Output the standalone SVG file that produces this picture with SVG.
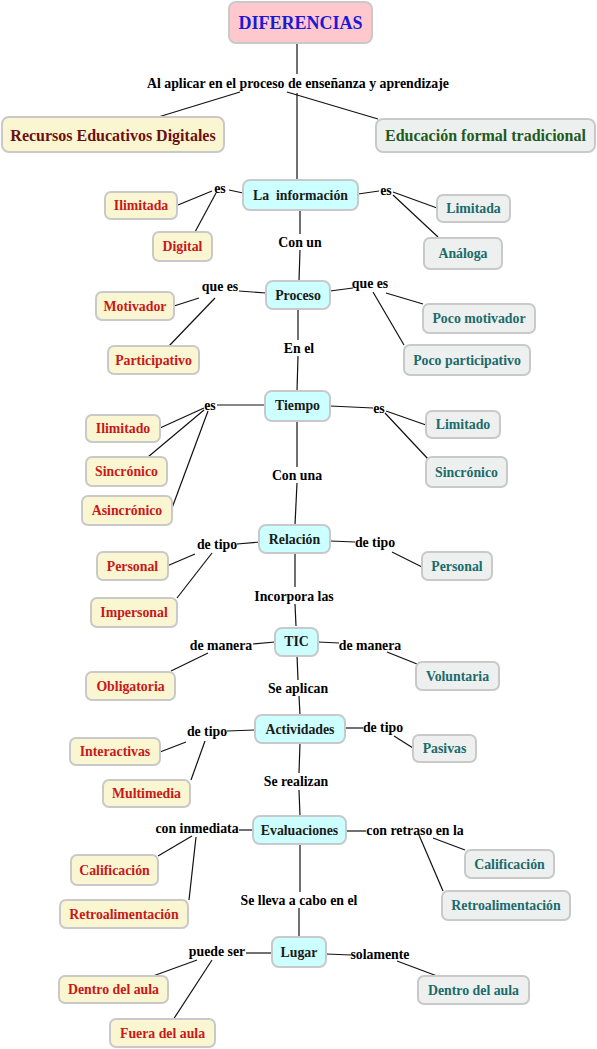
<svg xmlns="http://www.w3.org/2000/svg" width="597" height="1049" viewBox="0 0 597 1049">
<style>
text{font-family:"Liberation Serif","Times New Roman",serif;font-weight:bold;text-anchor:middle;dominant-baseline:central}
rect{stroke:#c9c9c9;stroke-width:2}
.c rect{fill:#ccffff}
.l rect{fill:#fbf6d2}
.r rect{fill:#eef0ef}
.t rect{fill:#ffc8cc}
.c text{fill:#1a1a1a;font-size:13.8px}
.l text{fill:#c81818;font-size:13.8px}
.r text{fill:#1a6b6b;font-size:13.8px}
.lab{fill:#000;font-size:13.8px}
#conn line{stroke:#111;stroke-width:1.2}
</style>
<rect width="597" height="1049" fill="#fff" style="stroke:none"/>
<g id="conn">
<line x1="297" y1="43" x2="297" y2="74"/>
<line x1="297" y1="93" x2="297" y2="180"/>
<line x1="240" y1="92" x2="155" y2="118"/>
<line x1="287" y1="92" x2="378" y2="119"/>
<line x1="243" y1="193" x2="229" y2="190"/>
<line x1="212" y1="191" x2="178" y2="205"/>
<line x1="216" y1="193" x2="195" y2="232"/>
<line x1="358" y1="194" x2="379" y2="191"/>
<line x1="393" y1="192" x2="437" y2="208"/>
<line x1="393" y1="195" x2="438" y2="237"/>
<line x1="300" y1="210" x2="300" y2="234"/>
<line x1="300" y1="250" x2="299" y2="281"/>
<line x1="266" y1="293" x2="239" y2="291"/>
<line x1="199" y1="298" x2="174" y2="306"/>
<line x1="215" y1="298" x2="169" y2="346"/>
<line x1="330" y1="291" x2="353" y2="288"/>
<line x1="386" y1="293" x2="423" y2="304"/>
<line x1="373" y1="292" x2="404" y2="345"/>
<line x1="298" y1="309" x2="298" y2="340"/>
<line x1="298" y1="356" x2="297" y2="391"/>
<line x1="265" y1="405" x2="217" y2="405"/>
<line x1="204" y1="408" x2="160" y2="428"/>
<line x1="204" y1="410" x2="148" y2="457"/>
<line x1="208" y1="411" x2="172" y2="508"/>
<line x1="330" y1="406" x2="373" y2="408"/>
<line x1="386" y1="411" x2="426" y2="425"/>
<line x1="385" y1="413" x2="428" y2="459"/>
<line x1="297" y1="421" x2="297" y2="467"/>
<line x1="297" y1="483" x2="295" y2="525"/>
<line x1="260" y1="542" x2="237" y2="544"/>
<line x1="195" y1="554" x2="167" y2="566"/>
<line x1="212" y1="553" x2="177" y2="598"/>
<line x1="330" y1="541" x2="355" y2="542"/>
<line x1="392" y1="552" x2="422" y2="567"/>
<line x1="295" y1="553" x2="295" y2="587"/>
<line x1="295" y1="604" x2="296" y2="626"/>
<line x1="275" y1="642" x2="253" y2="644"/>
<line x1="208" y1="653" x2="171" y2="671"/>
<line x1="318" y1="642" x2="339" y2="643"/>
<line x1="387" y1="652" x2="417" y2="664"/>
<line x1="297" y1="655" x2="298" y2="680"/>
<line x1="299" y1="696" x2="300" y2="715"/>
<line x1="255" y1="730" x2="227" y2="731"/>
<line x1="186" y1="742" x2="160" y2="752"/>
<line x1="205" y1="741" x2="191" y2="780"/>
<line x1="345" y1="728" x2="363" y2="728"/>
<line x1="394" y1="736" x2="413" y2="748"/>
<line x1="300" y1="743" x2="299" y2="773"/>
<line x1="299" y1="790" x2="300" y2="816"/>
<line x1="253" y1="830" x2="239" y2="830"/>
<line x1="192" y1="836" x2="158" y2="856"/>
<line x1="196" y1="837" x2="189" y2="900"/>
<line x1="346" y1="831" x2="366" y2="831"/>
<line x1="433" y1="838" x2="465" y2="850"/>
<line x1="419" y1="835" x2="443" y2="891"/>
<line x1="300" y1="844" x2="300" y2="892"/>
<line x1="299" y1="908" x2="299" y2="937"/>
<line x1="272" y1="953" x2="246" y2="953"/>
<line x1="197" y1="960" x2="153" y2="976"/>
<line x1="212" y1="960" x2="173" y2="1020"/>
<line x1="326" y1="954" x2="351" y2="955"/>
<line x1="397" y1="961" x2="437" y2="976"/>
</g>
<g id="labels">
<text class="lab" x="298" y="83">Al aplicar en el proceso de enseñanza y aprendizaje</text>
<text class="lab" x="220" y="188">es</text>
<text class="lab" x="386" y="190">es</text>
<text class="lab" x="300" y="242">Con un</text>
<text class="lab" x="220" y="286">que es</text>
<text class="lab" x="370" y="283">que es</text>
<text class="lab" x="299" y="348">En el</text>
<text class="lab" x="210" y="405">es</text>
<text class="lab" x="379" y="408">es</text>
<text class="lab" x="297" y="475">Con una</text>
<text class="lab" x="217" y="544">de tipo</text>
<text class="lab" x="375" y="542">de tipo</text>
<text class="lab" x="294" y="596">Incorpora las</text>
<text class="lab" x="221" y="645">de manera</text>
<text class="lab" x="370" y="645">de manera</text>
<text class="lab" x="298" y="688">Se aplican</text>
<text class="lab" x="207" y="731">de tipo</text>
<text class="lab" x="383" y="727">de tipo</text>
<text class="lab" x="296" y="781">Se realizan</text>
<text class="lab" x="197" y="828">con inmediata</text>
<text class="lab" x="415" y="830">con retraso en la</text>
<text class="lab" x="299" y="900">Se lleva a cabo en el</text>
<text class="lab" x="217" y="951">puede ser</text>
<text class="lab" x="380" y="954">solamente</text>
</g>
<g id="n-title" class="t"><rect x="229" y="2" width="143" height="41" rx="7"/><text x="300.5" y="23" style="fill:#1a1ad6;font-size:18px">DIFERENCIAS</text></g>
<g id="n-red" class="l"><rect x="2" y="117" width="222" height="35" rx="7"/><text x="113" y="135" style="fill:#6b1010;font-size:16px">Recursos Educativos Digitales</text></g>
<g id="n-eft" class="r"><rect x="376" y="119" width="219" height="33" rx="7"/><text x="485.5" y="135.5" style="fill:#1f5a1f;font-size:16px">Educación formal tradicional</text></g>
<g id="n-info" class="c"><rect x="243" y="180" width="115" height="30" rx="7"/><text x="300.5" y="195" xml:space="preserve">La  información</text></g>
<g id="n-ilimitada" class="l"><rect x="105" y="192" width="72" height="27" rx="6"/><text x="141" y="205.5">Ilimitada</text></g>
<g id="n-digital" class="l"><rect x="153" y="232" width="59" height="29" rx="6"/><text x="182.5" y="246.5">Digital</text></g>
<g id="n-limitada" class="r"><rect x="437" y="195" width="73" height="27" rx="6"/><text x="473.5" y="208.5">Limitada</text></g>
<g id="n-analoga" class="r"><rect x="424" y="238" width="78" height="31" rx="6"/><text x="463" y="253.5">Análoga</text></g>
<g id="n-proceso" class="c"><rect x="266" y="281" width="64" height="28" rx="7"/><text x="298" y="295">Proceso</text></g>
<g id="n-motivador" class="l"><rect x="96" y="292" width="78" height="28" rx="6"/><text x="135" y="306">Motivador</text></g>
<g id="n-participativo" class="l"><rect x="108" y="346" width="91" height="28" rx="6"/><text x="153.5" y="360">Participativo</text></g>
<g id="n-pocomot" class="r"><rect x="423" y="304" width="112" height="29" rx="6"/><text x="479" y="318.5">Poco motivador</text></g>
<g id="n-pocopart" class="r"><rect x="404" y="345" width="126" height="30" rx="6"/><text x="467" y="360">Poco participativo</text></g>
<g id="n-tiempo" class="c"><rect x="265" y="391" width="65" height="30" rx="7"/><text x="297.5" y="405">Tiempo</text></g>
<g id="n-ilimitado" class="l"><rect x="86" y="415" width="74" height="27" rx="6"/><text x="123" y="428.5">Ilimitado</text></g>
<g id="n-sincl" class="l"><rect x="86" y="457" width="81" height="29" rx="6"/><text x="126.5" y="471.5">Sincrónico</text></g>
<g id="n-asinc" class="l"><rect x="82" y="496" width="90" height="29" rx="6"/><text x="127" y="510.5">Asincrónico</text></g>
<g id="n-limitado" class="r"><rect x="426" y="411" width="74" height="27" rx="6"/><text x="463" y="424.5">Limitado</text></g>
<g id="n-sincr" class="r"><rect x="426" y="457" width="81" height="30" rx="6"/><text x="466.5" y="472">Sincrónico</text></g>
<g id="n-relacion" class="c"><rect x="259" y="525" width="71" height="28" rx="7"/><text x="294.5" y="539">Relación</text></g>
<g id="n-persl" class="l"><rect x="97" y="552" width="71" height="28" rx="6"/><text x="132.5" y="566">Personal</text></g>
<g id="n-impers" class="l"><rect x="91" y="598" width="86" height="29" rx="6"/><text x="134" y="612.5">Impersonal</text></g>
<g id="n-persr" class="r"><rect x="422" y="552" width="70" height="28" rx="6"/><text x="457" y="566">Personal</text></g>
<g id="n-tic" class="c"><rect x="275" y="628" width="43" height="28" rx="7"/><text x="296.5" y="641.5">TIC</text></g>
<g id="n-oblig" class="l"><rect x="86" y="672" width="89" height="28" rx="6"/><text x="130.5" y="686">Obligatoria</text></g>
<g id="n-volunt" class="r"><rect x="416" y="662" width="83" height="28" rx="6"/><text x="457.5" y="676">Voluntaria</text></g>
<g id="n-activ" class="c"><rect x="255" y="715" width="90" height="28" rx="7"/><text x="300" y="729">Actividades</text></g>
<g id="n-interact" class="l"><rect x="70" y="738" width="90" height="27" rx="6"/><text x="115" y="751.5">Interactivas</text></g>
<g id="n-multi" class="l"><rect x="103" y="780" width="87" height="27" rx="6"/><text x="146.5" y="793.5">Multimedia</text></g>
<g id="n-pasivas" class="r"><rect x="413" y="735" width="63" height="27" rx="6"/><text x="444.5" y="748.5">Pasivas</text></g>
<g id="n-eval" class="c"><rect x="253" y="816" width="93" height="28" rx="7"/><text x="299.5" y="830">Evaluaciones</text></g>
<g id="n-califl" class="l"><rect x="71" y="855" width="87" height="30" rx="6"/><text x="114.5" y="870">Calificación</text></g>
<g id="n-retrol" class="l"><rect x="60" y="900" width="128" height="28" rx="6"/><text x="124" y="914">Retroalimentación</text></g>
<g id="n-califr" class="r"><rect x="465" y="850" width="89" height="28" rx="6"/><text x="509.5" y="864">Calificación</text></g>
<g id="n-retror" class="r"><rect x="442" y="891" width="128" height="29" rx="6"/><text x="506" y="905.5">Retroalimentación</text></g>
<g id="n-lugar" class="c"><rect x="272" y="937" width="54" height="30" rx="7"/><text x="299" y="952">Lugar</text></g>
<g id="n-dentrol" class="l"><rect x="59" y="976" width="109" height="27" rx="6"/><text x="113.5" y="989.5">Dentro del aula</text></g>
<g id="n-fuera" class="l"><rect x="110" y="1019" width="105" height="28" rx="6"/><text x="162.5" y="1033">Fuera del aula</text></g>
<g id="n-dentror" class="r"><rect x="418" y="976" width="111" height="28" rx="6"/><text x="473.5" y="990">Dentro del aula</text></g>
</svg>
